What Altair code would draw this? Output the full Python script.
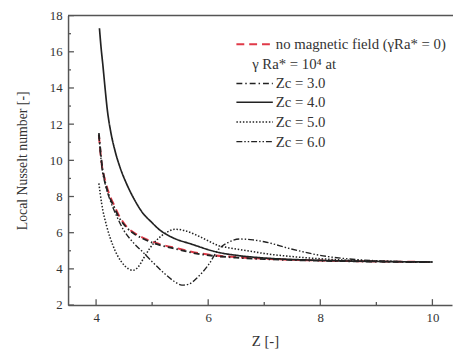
import altair as alt
import pandas as pd

# ---- data ----
z_nomag = [4.05, 4.1, 4.17, 4.25, 4.31, 4.4, 4.54, 4.7, 4.85, 5.1, 5.5, 5.7, 6.1, 6.5, 7.0, 7.5, 8.0, 9.0, 10.0]
nu_nomag = [11.4, 9.8, 8.8, 8.0, 7.6, 7.0, 6.35, 5.95, 5.7, 5.4, 5.1, 4.95, 4.75, 4.65, 4.56, 4.5, 4.46, 4.41, 4.38]

z_zc3 = [4.05, 4.1, 4.17, 4.25, 4.31, 4.4, 4.54, 4.7, 4.85, 5.1, 5.5, 5.7, 6.1, 6.5, 7.0, 7.5, 8.0, 9.0, 10.0]
nu_zc3 = [11.5, 9.9, 8.7, 7.9, 7.5, 6.9, 6.3, 5.9, 5.65, 5.35, 5.05, 4.9, 4.72, 4.62, 4.54, 4.49, 4.45, 4.4, 4.37]

z_zc4 = [4.06, 4.09, 4.12, 4.16, 4.2, 4.26, 4.34, 4.44, 4.54, 4.68, 4.83, 5.0, 5.12, 5.35, 5.7, 6.17, 6.5, 7.0, 7.5, 8.0, 9.0, 10.0]
nu_zc4 = [17.3, 16.2, 15.3, 14.0, 12.8, 11.6, 10.5, 9.5, 8.73, 7.85, 7.1, 6.55, 6.19, 5.75, 5.37, 4.92, 4.75, 4.6, 4.52, 4.47, 4.41, 4.38]

z_zc5 = [4.05, 4.1, 4.19, 4.3, 4.45, 4.58, 4.66, 4.75, 4.85, 4.95, 5.1, 5.25, 5.41, 5.6, 5.8, 6.0, 6.17, 6.4, 6.7, 7.0, 7.5, 8.0, 9.0, 10.0]
nu_zc5 = [8.73, 7.6, 6.35, 5.3, 4.4, 4.0, 3.92, 4.1, 4.6, 5.1, 5.65, 6.0, 6.19, 6.1, 5.85, 5.55, 5.3, 5.15, 5.0, 4.85, 4.68, 4.56, 4.43, 4.38]

z_zc6 = [4.05, 4.1, 4.17, 4.25, 4.37, 4.5, 4.65, 4.83, 5.0, 5.2, 5.4, 5.53, 5.65, 5.8, 6.0, 6.19, 6.35, 6.57, 6.8, 7.0, 7.48, 8.05, 8.5, 9.0, 10.0]
nu_zc6 = [11.4, 9.7, 8.6, 7.8, 6.9, 6.1, 5.5, 4.94, 4.4, 3.8, 3.3, 3.1, 3.15, 3.5, 4.2, 5.1, 5.45, 5.65, 5.6, 5.5, 5.1, 4.72, 4.55, 4.45, 4.38]

series_names = ["nomag", "zc3", "zc4", "zc5", "zc6"]
legend_labels = ["no magnetic field (γRa* = 0)", "Zc = 3.0", "Zc = 4.0", "Zc = 5.0", "Zc = 6.0"]
legend_header = "γ Ra* = 10⁴ at"

x_major = [4, 6, 8, 10]
x_minor = [5, 7, 9]
y_major = [2, 4, 6, 8, 10, 12, 14, 16, 18]
y_minor = [3, 5, 7, 9, 11, 13, 15, 17]

# ---- styles ----
W, H = 390, 294
FONT = "Liberation Serif"
TXT = "#333333"
FRAME = "#555555"
RED = "#e03a48"
BLACK = "#222222"
dashes = {
    "nomag": [8, 5],
    "zc3": [6, 3, 1.5, 3],
    "zc4": [1, 0],
    "zc5": [1.5, 1.8],
    "zc6": [6, 2, 1.5, 2, 1.5, 2],
}
colors = {"nomag": RED, "zc3": BLACK, "zc4": BLACK, "zc5": BLACK, "zc6": BLACK}
widths = {"nomag": 2.0, "zc3": 1.4, "zc4": 1.6, "zc5": 1.4, "zc6": 1.4}

zs = [z_nomag, z_zc3, z_zc4, z_zc5, z_zc6]
nus = [nu_nomag, nu_zc3, nu_zc4, nu_zc5, nu_zc6]
rows = []
for name, zz, nn in zip(series_names, zs, nus):
    for i, (a, b) in enumerate(zip(zz, nn)):
        rows.append({"series": name, "Z": a, "Nu": b, "order": i})
df = pd.DataFrame(rows)

x_scale = alt.Scale(domain=[3.5, 10.35], nice=False, zero=False)
y_scale = alt.Scale(domain=[2, 18], nice=False, zero=False)

x_axis = alt.Axis(values=x_major, format="d", tickSize=0, labelPadding=7, grid=False,
                  labelOverlap=False, labelFont=FONT, titleFont=FONT,
                  title="Z [-]", titleFontSize=15, titlePadding=9, titleX=200,
                  labelFontSize=13, domainColor=FRAME, domainWidth=1.5)
y_axis = alt.Axis(values=y_major, format="d", tickSize=0, labelPadding=6, grid=False,
                  labelOverlap=False, labelFont=FONT, titleFont=FONT,
                  title="Local Nusselt number [-]", titleFontSize=14, titlePadding=20,
                  labelFontSize=13, domainColor=FRAME, domainWidth=1.5)

lines = alt.Chart(df).mark_line(interpolate="monotone").encode(
    x=alt.X("Z:Q", scale=x_scale, axis=x_axis),
    y=alt.Y("Nu:Q", scale=y_scale, axis=y_axis),
    detail="series:N",
    order="order:Q",
    color=alt.Color("series:N", scale=alt.Scale(domain=series_names, range=[colors[s] for s in series_names]), legend=None),
    strokeDash=alt.StrokeDash("series:N", scale=alt.Scale(domain=series_names, range=[dashes[s] for s in series_names]), legend=None),
    strokeWidth=alt.StrokeWidth("series:N", scale=alt.Scale(domain=series_names, range=[widths[s] for s in series_names]), legend=None),
)

# inward ticks
xt_major = alt.Chart(pd.DataFrame({"Z": x_major})).mark_rule(color=FRAME, strokeWidth=1.3).encode(
    x=alt.X("Z:Q", scale=x_scale, axis=x_axis), y=alt.value(H), y2=alt.value(H - 6))
xt_minor = alt.Chart(pd.DataFrame({"Z": x_minor})).mark_rule(color=FRAME, strokeWidth=1.3).encode(
    x=alt.X("Z:Q", scale=x_scale, axis=x_axis), y=alt.value(H), y2=alt.value(H - 3))
yt_major = alt.Chart(pd.DataFrame({"Nu": y_major})).mark_rule(color=FRAME, strokeWidth=1.3).encode(
    y=alt.Y("Nu:Q", scale=y_scale, axis=y_axis), x=alt.value(0), x2=alt.value(6))
yt_minor = alt.Chart(pd.DataFrame({"Nu": y_minor})).mark_rule(color=FRAME, strokeWidth=1.3).encode(
    y=alt.Y("Nu:Q", scale=y_scale, axis=y_axis), x=alt.value(0), x2=alt.value(3))
top_line = alt.Chart(pd.DataFrame({"a": [0]})).mark_rule(color=FRAME, strokeWidth=1.5).encode(
    x=alt.value(0), x2=alt.value(W + 5), y=alt.value(0))

# custom legend
layers = [lines, xt_major, xt_minor, yt_major, yt_minor, top_line]
legend_rows_y = [29, 69, 88, 108, 128]
header_y = 49
sx1, sx2, tx = 171, 208, 211
for name, label, ry in zip(series_names, legend_labels, legend_rows_y):
    layers.append(
        alt.Chart(pd.DataFrame({"a": [0]})).mark_rule(
            color=colors[name], strokeDash=dashes[name], strokeWidth=widths[name]
        ).encode(x=alt.value(sx1), x2=alt.value(sx2), y=alt.value(ry))
    )
    layers.append(
        alt.Chart(pd.DataFrame({"t": [label]})).mark_text(
            align="left", baseline="middle", font=FONT, fontSize=15, color=TXT
        ).encode(text="t:N", x=alt.value(tx), y=alt.value(ry))
    )
layers.append(
    alt.Chart(pd.DataFrame({"t": [legend_header]})).mark_text(
        align="left", baseline="middle", font=FONT, fontSize=15, color=TXT
    ).encode(text="t:N", x=alt.value(187), y=alt.value(header_y))
)

chart = alt.layer(*layers).properties(
    width=W, height=H,
    autosize=alt.AutoSizeParams(type="none"),
    padding={"left": 61, "top": 5, "right": 1, "bottom": 48},
).configure_view(stroke=None).configure_axis(
    labelFont=FONT, titleFont=FONT, labelColor=TXT, titleColor=TXT, titleFontWeight="normal"
).configure_text(font=FONT)

chart.save("out.html", embed_options={"renderer": "svg", "actions": False})
